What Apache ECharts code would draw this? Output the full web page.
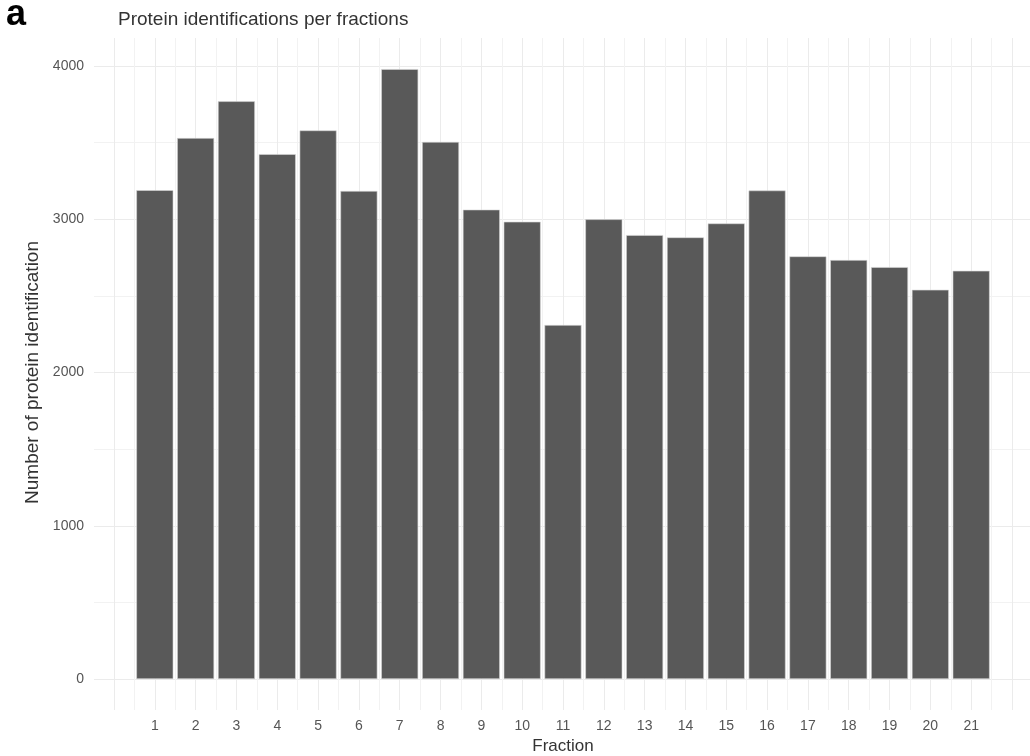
<!DOCTYPE html>
<html>
<head>
<meta charset="utf-8">
<script src="https://cdn.jsdelivr.net/npm/echarts@6/dist/echarts.min.js"></script>
<style>
html,body{margin:0;padding:0;background:#fff;}
#chart{width:1030px;height:756px;}
</style>
</head>
<body>
<div id="chart"></div>
<script>
const fractions = [1,2,3,4,5,6,7,8,9,10,11,12,13,14,15,16,17,18,19,20,21];
const proteinCounts = [3190,3530,3770,3425,3580,3185,3980,3505,3063,2984,2310,3000,2897,2882,2973,3188,2758,2734,2688,2540,2664];
const yTicks = [0,1000,2000,3000,4000];
const titleText = 'Protein identifications per fractions';
const panelLetter = 'a';
const xTitle = 'Fraction';
const yTitle = 'Number of protein identification';

const FONT = 'Liberation Sans, Arial, sans-serif';
const chart = echarts.init(document.getElementById('chart'));
const barData = fractions.map((f,i)=>[f, proteinCounts[i]]);

chart.setOption({
  backgroundColor:'#ffffff',
  animation:false,
  title:[
    {text:panelLetter,left:1,top:-8,textStyle:{fontFamily:FONT,fontSize:36,fontWeight:'bold',color:'#000'}},
    {text:titleText,left:113,top:5,textStyle:{fontFamily:FONT,fontSize:19,fontWeight:'normal',color:'#333'}}
  ],
  grid:[
    {left:94,right:0,top:66,bottom:77,outerBoundsMode:'none',containLabel:false},
    {left:114,width:898,top:38,bottom:46,outerBoundsMode:'none',containLabel:false}
  ],
  xAxis:[
    {gridIndex:0,type:'value',min:0,max:1,show:false},
    {gridIndex:1,type:'value',min:0,max:22,interval:1,
     name:xTitle,nameLocation:'middle',nameGap:27,
     nameTextStyle:{fontFamily:FONT,fontSize:17,color:'#333'},
     axisLine:{show:false},axisTick:{show:false},
     axisLabel:{margin:9,fontFamily:FONT,fontSize:14,color:'#555',
       formatter:v=>fractions.includes(v)?String(v):''},
     splitLine:{show:true,lineStyle:{color:'#ebebeb',width:1}},
     minorTick:{show:false,splitNumber:2},
     minorSplitLine:{show:true,lineStyle:{color:'#f2f2f2',width:1}}
    }
  ],
  yAxis:[
    {gridIndex:0,type:'value',min:yTicks[0],max:yTicks[yTicks.length-1],interval:1000,
     name:yTitle,nameLocation:'middle',nameGap:52,
     nameTextStyle:{fontFamily:FONT,fontSize:19,color:'#333'},
     axisLine:{show:false},axisTick:{show:false},
     axisLabel:{margin:10,fontFamily:FONT,fontSize:14,color:'#555',formatter:v=>String(v)},
     splitLine:{show:true,lineStyle:{color:'#ebebeb',width:1}},
     minorTick:{show:false,splitNumber:2},
     minorSplitLine:{show:true,lineStyle:{color:'#f2f2f2',width:1}}
    },
    {gridIndex:1,type:'value',min:-202,max:4183,show:false,splitLine:{show:false}}
  ],
  series:[{
    type:'bar',
    xAxisIndex:1,yAxisIndex:1,
    data:barData,
    barWidth:37,
    itemStyle:{color:'#595959',borderColor:'#d8d8d8',borderWidth:0.6},
    z:5
  }]
});
</script>
</body>
</html>
